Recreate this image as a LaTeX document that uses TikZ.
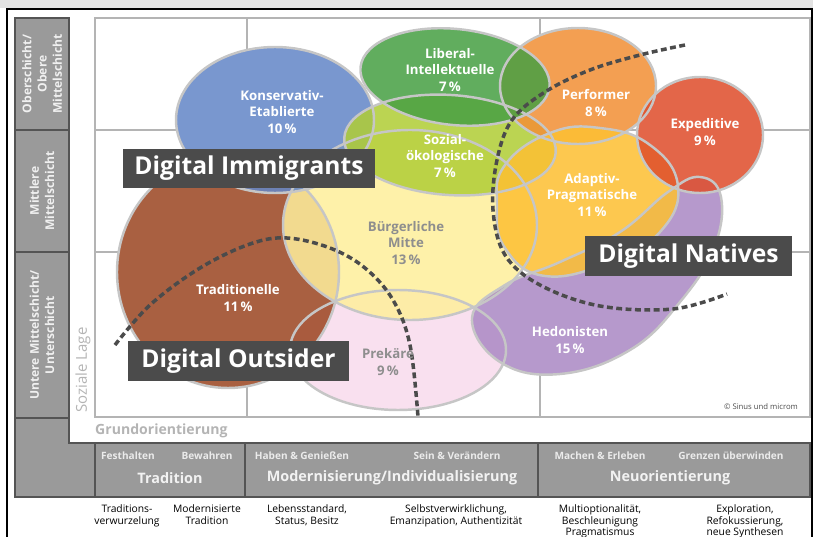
\documentclass[tikz,border=0pt]{standalone}
\usepackage{fontspec}
\setmainfont{Open Sans}
\usepackage{tikz}

\definecolor{konsblue}{HTML}{6487C8}
\definecolor{libgreen}{HTML}{48A044}
\definecolor{sozgreen}{HTML}{B0CD36}
\definecolor{perforange}{HTML}{F29036}
\definecolor{expred}{HTML}{DF4E2C}
\definecolor{adaptyellow}{HTML}{FDC033}
\definecolor{hedopurple}{HTML}{AB89C4}
\definecolor{mitteyellow}{HTML}{FEEF9C}
\definecolor{tradbrown}{HTML}{9C4622}
\definecolor{prekpink}{HTML}{F9DBED}
\definecolor{rimgray}{HTML}{C6C6C6}
\definecolor{taggray}{HTML}{4B4B4B}
\definecolor{bandgray}{HTML}{9A9A9A}
\definecolor{banddark}{HTML}{545454}
\definecolor{gridgray}{HTML}{B4B4B4}
\definecolor{softtext}{HTML}{8E8E8E}

\newcommand\shKons{(275,120) ellipse [x radius=99, y radius=73]}
\newcommand\shLib{(455,77) ellipse [x radius=95, y radius=48, rotate=-6]}
\newcommand\shSoz{(450,145) ellipse [x radius=106, y radius=50, rotate=-4]}
\newcommand\shPerf{(578,86) ellipse [x radius=78, y radius=58]}
\newcommand\shExp{(700,135) ellipse [x radius=63, y radius=58]}
\newcommand\shAdapt{plot[smooth cycle, tension=0.75] coordinates {(505,165) (550,133) (600,128) (650,145) (678,186) (660,232) (610,262) (545,276) (505,248) (497,205)}}
\newcommand\shHedo{plot[smooth cycle, tension=0.7] coordinates {(472,318) (505,285) (560,262) (620,232) (668,192) (700,177) (721,197) (714,248) (680,302) (630,350) (560,374) (500,362)}}
\newcommand\shMitte{(410,225) ellipse [x radius=127, y radius=95]}
\newcommand\shTrad{(228,272) ellipse [x radius=111, y radius=116]}
\newcommand\shPrek{(398,350) ellipse [x radius=108, y radius=60]}

\begin{document}
\begin{tikzpicture}[x=0.03cm, y=-0.03cm,
  blob/.style={fill opacity=0.86},
  rim/.style={draw=rimgray, line width=2.1pt},
  gridline/.style={draw=gridgray, line width=1.7pt},
  bandbox/.style={draw=banddark, fill=bandgray, line width=1.6pt},
  milieu/.style={text=white, align=center, font=\fontsize{11.3}{14}\selectfont\bfseries},
  milieusoft/.style={milieu, text=softtext},
  tag/.style={fill=taggray, text=white, font=\fontsize{21}{24}\selectfont\bfseries, inner sep=0pt},
  digiline/.style={draw=taggray, line width=3pt, dash pattern=on 5pt off 3pt},
  layer/.style={rotate=90, text=white!94!black, align=center, font=\fontsize{10.3}{13}\selectfont\bfseries},
  headsmall/.style={text=white!92!black, font=\fontsize{8.6}{10}\selectfont\bfseries},
  headbig/.style={text=white!95!black, font=\fontsize{12.3}{14}\selectfont\bfseries},
  desc/.style={text=black, align=center, font=\fontsize{8.8}{9.6}\selectfont}]

\useasboundingbox (0,0) rectangle (813,537);
\fill[gray!22] (0,0) rectangle (813,8);
\draw[black, line width=1.4pt] (7,545) -- (7,9) -- (812,9) -- (812,545);

\draw[bandbox] (15,18) rectangle (69,130);
\draw[bandbox] (15,130) rectangle (69,252);
\draw[bandbox] (15,252) rectangle (69,418);
\draw[bandbox] (15,418) -- (69,418) -- (69,443) -- (95,443) -- (95,497) -- (15,497) -- cycle;
\draw[bandbox] (95,443) rectangle (245,497);
\draw[bandbox] (245,443) rectangle (538,497);
\draw[bandbox] (538,443) rectangle (810,497);

\draw[gridline] (95,18) rectangle (810,417);
\draw[gridline] (247,18) -- (247,417);
\draw[gridline] (540,18) -- (540,417);
\draw[gridline] (95,130) -- (810,130);
\draw[gridline] (95,252) -- (810,252);

\fill[white] \shPrek;
\fill[white] \shTrad;
\fill[white] \shMitte;
\fill[white] \shHedo;
\fill[white] \shKons;
\fill[white] \shSoz;
\fill[white] \shLib;
\fill[white] \shAdapt;
\fill[white] \shPerf;
\fill[white] \shExp;

\fill[blob, prekpink] \shPrek;
\fill[blob, tradbrown] \shTrad;
\fill[blob, mitteyellow] \shMitte;
\fill[blob, hedopurple] \shHedo;
\fill[blob, konsblue] \shKons;
\fill[blob, sozgreen] \shSoz;
\fill[blob, perforange] \shPerf;
\fill[blob, libgreen] \shLib;
\fill[blob, adaptyellow] \shAdapt;
\fill[blob, expred] \shExp;

\draw[rim] \shPrek;
\draw[rim] \shTrad;
\draw[rim] \shMitte;
\draw[rim] \shHedo;
\draw[rim] \shKons;
\draw[rim] \shSoz;
\draw[rim] \shPerf;
\draw[rim] \shLib;
\draw[rim] \shAdapt;
\draw[rim] \shExp;

\draw[digiline] plot[smooth, tension=0.6] coordinates {(115,345) (150,305) (200,268) (250,244) (287,238) (330,248) (365,268) (393,300) (410,345) (418,417)};
\draw[digiline] plot[smooth, tension=0.6] coordinates {(685,45) (640,55) (590,70) (545,92) (512,120) (497,160) (493,210) (505,255) (540,285) (600,306) (673,309) (727,294)};

\node[milieu] (kons) at (282,112) {Konservativ-\\Etablierte\\10\,\%};
\node[milieu] (lib) at (450,70) {Liberal-\\Intellektuelle\\7\,\%};
\node[milieu] (soz) at (445,156) {Sozial-\\ökologische\\7\,\%};
\node[milieu] (perf) at (596,103) {Performer\\8\,\%};
\node[milieu] (exped) at (705,132) {Expeditive\\9\,\%};
\node[milieu] (adapt) at (592,195) {Adaptiv-\\Pragmatische\\11\,\%};
\node[milieusoft] (mitte) at (406,243) {Bürgerliche\\Mitte\\13\,\%};
\node[milieu] (trad) at (238,298) {Traditionelle\\11\,\%};
\node[milieusoft] (prek) at (388,362) {Prekäre\\9\,\%};
\node[milieu] (hedo) at (570,340) {Hedonisten\\15\,\%};

\node[tag, minimum width=7.56cm, minimum height=1.17cm] (immig) at (249,168.5) {Digital Immigrants};
\node[tag, minimum width=6.21cm, minimum height=1.2cm] (natives) at (688.5,256) {Digital Natives};
\node[tag, minimum width=6.63cm, minimum height=1.2cm] (outsider) at (238.5,361) {Digital Outsider};

\node[text=taggray, font=\fontsize{6.6}{7}\selectfont, anchor=east] (copy) at (802,407) {© Sinus und microm};

\node[layer] (ober) at (42,74) {Oberschicht/\\Obere\\Mittelschicht};
\node[layer] (mittl) at (42,191) {Mittlere\\Mittelschicht};
\node[layer] (unter) at (42,335) {Untere Mittelschicht/\\Unterschicht};
\node[rotate=90, text=gridgray, font=\fontsize{12.8}{14}\selectfont] (lage) at (83,370) {Soziale Lage};
\node[anchor=west, text=gridgray, font=\fontsize{12}{14}\selectfont\bfseries, inner sep=0pt] (grund) at (95,431) {Grundorientierung};

\node[headsmall] (fest) at (128,456) {Festhalten};
\node[headsmall] (bewa) at (207,456) {Bewahren};
\node[headbig] (tradi) at (170,478) {Tradition};
\node[headsmall] (haben) at (302,456) {Haben \& Genießen};
\node[headsmall] (sein) at (457,456) {Sein \& Verändern};
\node[headbig] (moder) at (392,478) {Modernisierung/Individualisierung};
\node[headsmall] (machen) at (600,456) {Machen \& Erleben};
\node[headsmall] (grenz) at (731,456) {Grenzen überwinden};
\node[headbig] (neuo) at (670,478) {Neuorientierung};

\node[desc, anchor=north] (d1) at (127,501) {Traditions-\\verwurzelung};
\node[desc, anchor=north] (d2) at (207,501) {Modernisierte\\Tradition};
\node[desc, anchor=north] (d3) at (307,501) {Lebensstandard,\\Status, Besitz};
\node[desc, anchor=north] (d4) at (456,501) {Selbstverwirklichung,\\Emanzipation, Authentizität};
\node[desc, anchor=north] (d5) at (600,501) {Multioptionalität,\\Beschleunigung\\Pragmatismus};
\node[desc, anchor=north] (d6) at (745,501) {Exploration,\\Refokussierung,\\neue Synthesen};
\end{tikzpicture}
\end{document}
